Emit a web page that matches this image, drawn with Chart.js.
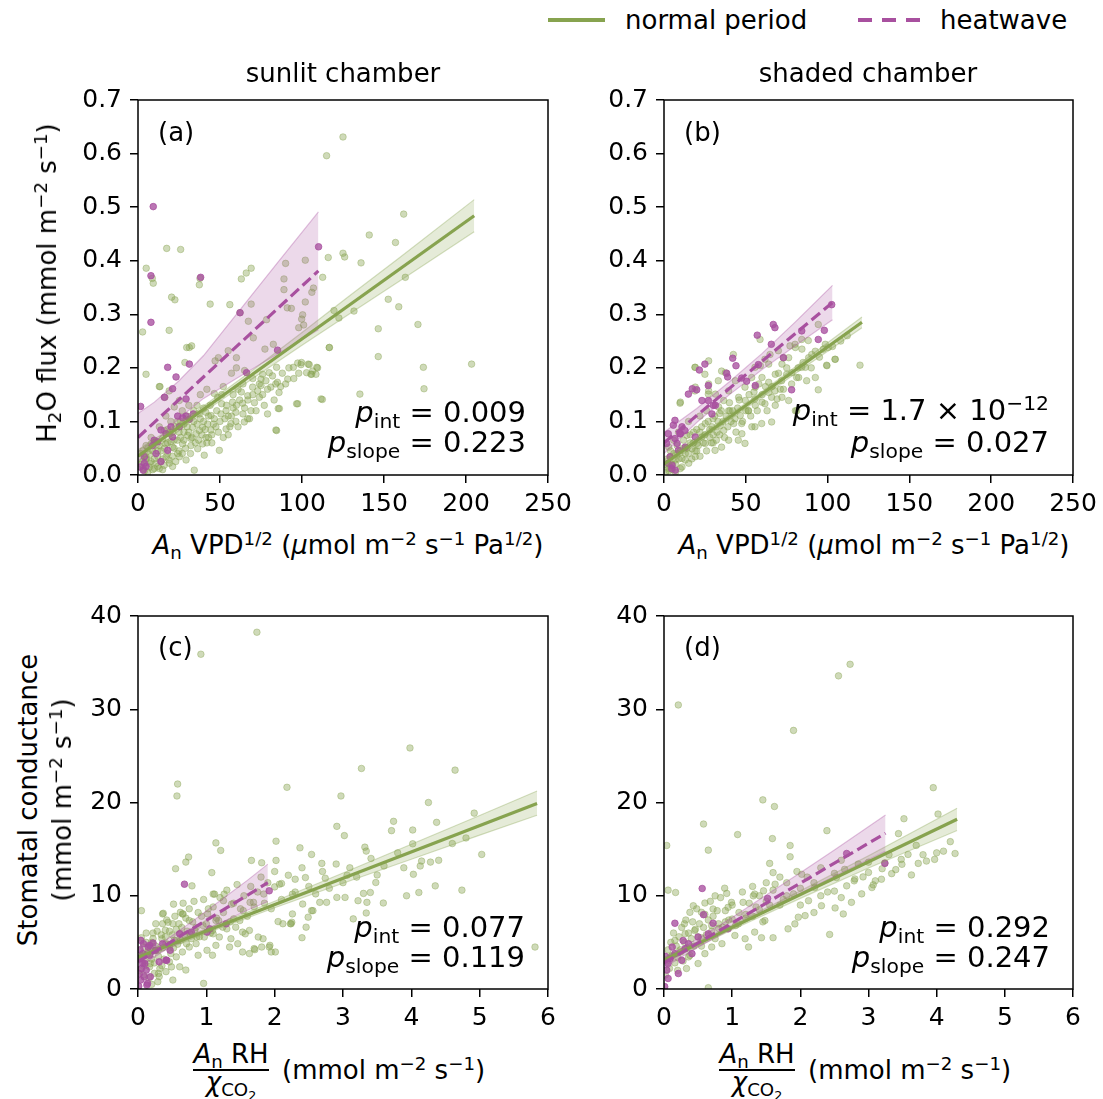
<!DOCTYPE html>
<html>
<head>
<meta charset="utf-8">
<script src="https://cdn.jsdelivr.net/npm/chart.js@4.4.0/dist/chart.umd.min.js"></script>
<style>
body{margin:0;background:#fff;font-family:'DejaVu Sans',sans-serif;color:#000}
#fig{position:relative;width:1103px;height:1099px;overflow:hidden;background:#fff}
canvas{position:absolute}
.t{position:absolute;white-space:nowrap;font-size:26px;line-height:1}
.c{transform:translate(-50%,-50%)}
.m{transform:translateY(-50%)}
.p{font-size:29px}
sub,sup{font-size:0.7em;line-height:0;position:relative;vertical-align:baseline}
sup{top:-0.5em}
sub{top:0.28em}
.bar{position:absolute;height:1.5px;background:#000}
</style>
</head>
<body>
<div id="fig">
  <canvas id="pa"></canvas>
  <canvas id="pb"></canvas>
  <canvas id="pc"></canvas>
  <canvas id="pd"></canvas>

  <!-- legend -->
  <div style="position:absolute;left:548px;top:18px;width:57px;height:4px;background:#87a34f"></div>
  <div class="t m" style="left:625px;top:20px">normal period</div>
  <div style="position:absolute;left:858px;top:18px;width:62px;height:4px;background:repeating-linear-gradient(90deg,#a8509f 0 14px,transparent 14px 24px)"></div>
  <div class="t m" style="left:940px;top:20px">heatwave</div>

  <div class="t c" style="left:343px;top:73px">sunlit chamber</div>
  <div class="t c" style="left:868px;top:73px">shaded chamber</div>

  <div class="t m" style="left:158px;top:132px">(a)</div>
  <div class="t m" style="left:684px;top:132px">(b)</div>
  <div class="t m" style="left:158px;top:647px">(c)</div>
  <div class="t m" style="left:684px;top:647px">(d)</div>

  <!-- p values -->
  <div class="t m p" style="right:577px;top:412px"><i>p</i><sub>int</sub> = 0.009</div>
  <div class="t m p" style="right:577px;top:442px"><i>p</i><sub>slope</sub> = 0.223</div>
  <div class="t m p" style="right:54px;top:410px"><i>p</i><sub>int</sub> = 1.7 × 10<sup>−12</sup></div>
  <div class="t m p" style="right:54px;top:442px"><i>p</i><sub>slope</sub> = 0.027</div>
  <div class="t m p" style="right:578px;top:927px"><i>p</i><sub>int</sub> = 0.077</div>
  <div class="t m p" style="right:578px;top:957px"><i>p</i><sub>slope</sub> = 0.119</div>
  <div class="t m p" style="right:53px;top:927px"><i>p</i><sub>int</sub> = 0.292</div>
  <div class="t m p" style="right:53px;top:957px"><i>p</i><sub>slope</sub> = 0.247</div>

  <!-- axis titles -->
  <div class="t c" style="left:348px;top:545px"><i>A</i><sub>n</sub> VPD<sup>1/2</sup> (<i>μ</i>mol m<sup>−2</sup> s<sup>−1</sup> Pa<sup>1/2</sup>)</div>
  <div class="t c" style="left:874px;top:545px"><i>A</i><sub>n</sub> VPD<sup>1/2</sup> (<i>μ</i>mol m<sup>−2</sup> s<sup>−1</sup> Pa<sup>1/2</sup>)</div>
  <div class="t" style="left:47px;top:283px;transform:translate(-50%,-50%) rotate(-90deg)">H<sub>2</sub>O flux (mmol m<sup>−2</sup> s<sup>−1</sup>)</div>
  <div class="t" style="left:28px;top:800px;transform:translate(-50%,-50%) rotate(-90deg)">Stomatal conductance</div>
  <div class="t" style="left:62px;top:800px;transform:translate(-50%,-50%) rotate(-90deg)">(mmol m<sup>−2</sup> s<sup>−1</sup>)</div>

  <div class="t c" style="left:231px;top:1054px"><i>A</i><sub>n</sub> RH</div>
  <div class="bar" style="left:193px;top:1069px;width:76px"></div>
  <div class="t c" style="left:231px;top:1082px"><i>χ</i><sub>CO<sub>2</sub></sub></div>
  <div class="t m" style="left:282px;top:1070px">(mmol m<sup>−2</sup> s<sup>−1</sup>)</div>

  <div class="t c" style="left:757px;top:1054px"><i>A</i><sub>n</sub> RH</div>
  <div class="bar" style="left:719px;top:1069px;width:76px"></div>
  <div class="t c" style="left:757px;top:1082px"><i>χ</i><sub>CO<sub>2</sub></sub></div>
  <div class="t m" style="left:808px;top:1070px">(mmol m<sup>−2</sup> s<sup>−1</sup>)</div>
</div>

<script>
// ---- tick values ----
const fluxXTicks = [0, 50, 100, 150, 200, 250];
const fluxYTicks = [0, 0.1, 0.2, 0.3, 0.4, 0.5, 0.6, 0.7];
const condXTicks = [0, 1, 2, 3, 4, 5, 6];
const condYTicks = [0, 10, 20, 30, 40];

// ---- (a) sunlit, H2O flux vs An VPD^1/2 ----
const fluxSunNormal = [
  [125,0.631],[115,0.596],[162,0.487],[141,0.448],[157,0.434],[125,0.414],[126,0.407],[116,0.406],[136,0.396],[102,0.401],
  [90,0.395],[17.5,0.423],[26,0.421],[5,0.386],[9.3,0.358],[8.7,0.367],[37.4,0.355],[37.8,0.367],[20.5,0.332],[22.5,0.327],
  [44,0.319],[66,0.377],[69,0.386],[63,0.366],[69,0.319],[56,0.318],[89,0.366],[106,0.341],[107,0.349],[112.6,0.369],
  [89,0.346],[102,0.323],[91,0.312],[93.5,0.311],[119.5,0.307],[122.5,0.293],[131.7,0.306],[152.6,0.328],[159,0.314],[163,0.369],
  [170.7,0.281],[146.5,0.273],[146.5,0.221],[174,0.201],[174.4,0.161],[203.4,0.207],[135.3,0.151],[116.6,0.238],[112.4,0.141],[96.7,0.133],
  [67.3,0.287],[62.2,0.303],[78.4,0.29],[100.4,0.299],[99.8,0.291],[101,0.28],[98,0.275],[77.4,0.235],[82.5,0.244],[70.3,0.256],
  [60,0.219],[55,0.232],[49,0.219],[47,0.213],[19,0.27],[2.8,0.267],[29.7,0.238],[32.7,0.241],[28.6,0.21],[4.9,0.188],
  [13.4,0.165],[16.4,0.145],[99.7,0.21],[103.8,0.207],[109,0.201],[105.9,0.188],[102.8,0.191],[94.7,0.201],[84.5,0.201],[79,0.114],
  [84.5,0.083],[85.5,0.124],[51,0.133],[56,0.09],[64,0.114],[68,0.105],[31.3,0.238],[13,0.165],[19,0.157],[46.5,0.152],
  [48.6,0.145],[57.7,0.136],[63.8,0.134],[59.7,0.117],[53.7,0.12],[50.6,0.114],[46.5,0.105],[47.5,0.09],[44.5,0.084],[68.9,0.12],
  [66.9,0.105],[64.8,0.099],[59.7,0.1],[56.7,0.096],[53.7,0.086],[69.9,0.164],[73,0.157],[66.9,0.148],[78,0.176],[81,0.164],
  [84,0.17],[75,0.167],[86,0.154],[85,0.173],[91.3,0.179],[80,0.191],[76,0.188],[75,0.179],[97.4,0.209],[99.4,0.206],
  [104.4,0.206],[106.5,0.194],[109.5,0.2],[108.5,0.188],[105.4,0.188],[116.7,0.238],[111.6,0.142],[97.4,0.133],[86.2,0.124],[84.1,0.084],
  [34.3,0.009],[25.2,0.034],[29.3,0.028],[24.2,0.04],[21.1,0.052],[27.2,0.058],[32.3,0.055],[36.4,0.049],[39.4,0.058],[41.4,0.07],
  [37.4,0.083],[35.4,0.077],[33.3,0.089],[39.4,0.089],[42.5,0.095],[44.5,0.111],[41.4,0.117],[37.4,0.114],[19.1,0.022],[17.1,0.034],
  [14,0.025],[12,0.016],[15,0.01],[21.1,0.016],[6.9,0.022],[4.9,0.034],[2.8,0.025],[8.9,0.01],[16.1,0.05],[4.9,0.055],
  [8,0.058],[11,0.062],[19.1,0.077],[16.1,0.083],[30.3,0.074],[32.3,0.068],[49.6,0.046],[40.4,0.037],[25.2,0.139],[22.1,0.127],
  [10,0.03],[12,0.045],[18,0.06],[22,0.065],[26,0.07],[28,0.08],[30,0.09],[24,0.1],[34,0.1],[36,0.13],
  [40,0.1],[43,0.07],[45,0.06],[52,0.07],[55,0.11],[58,0.125],[62,0.14],[61,0.16],[64,0.17],[71,0.135],
  [74,0.145],[77,0.13],[70,0.18],[88,0.19],[92,0.2],[6,0.005],[3,0.012],[1.5,0.04],[8,0.07],[13,0.09],
  [20,0.1],[17,0.11],[27,0.12],[31,0.13],[38,0.15],[42,0.16],[52,0.165],[57,0.19],[60,0.2],[65,0.195],
  [2,0.02],[3,0.045],[4,0.008],[5,0.03],[6,0.05],[7,0.015],[7,0.038],[8,0.025],[9,0.045],[10,0.012],
  [10,0.06],[11,0.022],[12,0.035],[13,0.055],[13,0.012],[14,0.045],[15,0.068],[15,0.03],[16,0.018],[17,0.058],
  [18,0.04],[18,0.085],[19,0.028],[20,0.062],[21,0.035],[21,0.08],[22,0.05],[23,0.09],[23,0.025],[24,0.065],
  [25,0.045],[25,0.08],[26,0.1],[27,0.04],[28,0.065],[28,0.095],[29,0.05],[30,0.11],[31,0.08],[32,0.04],
  [33,0.07],[34,0.12],[35,0.06],[36,0.095],[37,0.065],[38,0.105],[39,0.075],[40,0.125],[41,0.085],[42,0.06],
  [43,0.11],[44,0.13],[45,0.075],[46,0.095],[48,0.12],[49,0.08],[50,0.1],[51,0.15],[53,0.105],[54,0.13],
  [55,0.075],[57,0.11],[58,0.15],[60,0.13],[61,0.09],[63,0.155],[65,0.125],[67,0.14],[70,0.15],[72,0.12],
  [74,0.17],[76,0.15],[79,0.16],[82,0.185],[83,0.14],[87,0.165],[90,0.17],[95,0.18],[98,0.19]
];
const fluxSunHeat = [
  [9.3,0.501],[7.9,0.372],[38.2,0.369],[7.9,0.285],[62.2,0.303],[85.1,0.233],[110.1,0.426],[66.2,0.191],[18.1,0.201],[23.2,0.183],
  [31.3,0.207],[21.1,0.161],[16.1,0.145],[29.3,0.142],[1.6,0.128],[27.2,0.107],[29.3,0.11],[31.3,0.104],[24.2,0.11],[20.1,0.09],
  [25.2,0.09],[14,0.084],[17.1,0.077],[9.9,0.065],[12,0.062],[8.9,0.055],[21.1,0.071],[18.1,0.046],[11,0.04],[3.9,0.034],
  [3.9,0.022],[4.9,0.016],[14,0.025],[3.2,0.009],[1.2,0.015],[33.7,0.114]
];
const fitFluxSunNormal = [[0,0.035],[205,0.484]];
const fitFluxSunHeat = [[0,0.07],[110,0.381]];
// [x, lower, upper]
const bandFluxSunNormal = [[0,0.023,0.047],[20,0.071,0.087],[40,0.117,0.129],[70,0.180,0.196],[100,0.242,0.266],[130,0.303,0.337],[160,0.363,0.407],[205,0.454,0.514]];
const bandFluxSunHeat = [[0,0.025,0.115],[10,0.06,0.136],[25,0.106,0.176],[40,0.143,0.223],[60,0.18,0.30],[85,0.226,0.396],[110,0.271,0.491]];

// ---- (b) shaded, H2O flux ----
const fluxShadeNormal = [
  [119.8,0.205],[104.5,0.216],[99.4,0.205],[94.3,0.159],[81.1,0.12],[88.2,0.251],[94.3,0.281],[84.2,0.253],[80.1,0.244],[77,0.241],
  [73,0.219],[69.9,0.232],[64.8,0.225],[61.7,0.216],[58.7,0.253],[55.6,0.201],[53.6,0.182],[49.5,0.164],[42.4,0.225],[35.2,0.194],
  [33.2,0.176],[25,0.188],[18.9,0.201],[9.8,0.134],[18.9,0.157],[27.1,0.151],[65.8,0.099],[59.7,0.096],[55.6,0.09],[45.4,0.065],
  [49.5,0.059],[35.2,0.052],[31.2,0.046],[81.1,0.182],[84.2,0.201],[87.2,0.176],[71.9,0.176],[75,0.188],[67.8,0.157],[90.3,0.225],
  [97.4,0.235],[100.4,0.238],[65.8,0.145],[61.7,0.133],[55.6,0.142],[51.5,0.12],[40.3,0.12],[43.4,0.105],[47.5,0.096],[80.3,0.238],
  [84.3,0.235],[76.2,0.219],[88.4,0.219],[92.5,0.231],[98.6,0.244],[104.7,0.216],[99.6,0.204],[80.3,0.12],[76.2,0.139],[72.1,0.145],
  [69.1,0.142],[82.3,0.182],[78.2,0.191],[86.4,0.201],[92.5,0.182],[55.8,0.164],[59.9,0.182],[64,0.173],[68,0.188],[71.1,0.16],
  [64,0.154],[59.9,0.136],[55.8,0.13],[51.7,0.12],[49.7,0.139],[45.6,0.145],[46.6,0.111],[42.6,0.096],[39.5,0.157],[36.5,0.139],
  [39.5,0.12],[33.4,0.127],[37.5,0.191],[43.6,0.176],[27.3,0.17],[31.4,0.151],[10,0.136],[19.1,0.164],[27.3,0.157],[19.1,0.201],
  [27.3,0.213],[36.5,0.083],[34.4,0.092],[32.4,0.08],[29.3,0.09],[25.2,0.096],[23.2,0.071],[20.2,0.059],[17.1,0.049],[13,0.04],
  [11,0.031],[15.1,0.022],[6.9,0.028],[3.9,0.034],[2.9,0.012],[10,0.012],[19.1,0.034],[25.2,0.059],[39.5,0.065],[47.6,0.077],
  [53.7,0.09],[2.9,0.052],[5.9,0.065],[8.9,0.08],[14,0.074],[18.1,0.08],[72.1,0.207],[64,0.207],[58.9,0.204],[1,0.005],
  [4,0.015],[7,0.005],[12,0.05],[16,0.06],[22,0.08],[28,0.07],[30,0.105],[34,0.115],[22,0.11],[15,0.1],
  [8,0.04],[5,0.02],[26,0.12],[30,0.06],[20,0.045],
  [1,0.02],[2,0.03],[3,0.008],[4,0.045],[5,0.01],[6,0.04],[7,0.02],[8,0.055],[9,0.03],[10,0.045],
  [11,0.015],[12,0.065],[13,0.028],[14,0.05],[15,0.04],[16,0.075],[17,0.03],[18,0.06],[19,0.045],[20,0.085],
  [21,0.055],[22,0.035],[23,0.09],[24,0.06],[25,0.075],[26,0.045],[27,0.1],[28,0.085],[29,0.06],[30,0.075],
  [31,0.11],[32,0.065],[33,0.1],[34,0.075],[35,0.12],[36,0.1],[37,0.07],[38,0.11],[39,0.09],[40,0.135],
  [41,0.1],[42,0.12],[44,0.08],[45,0.125],[46,0.14],[48,0.1],[50,0.12],[52,0.15],[53,0.11],[55,0.155],
  [57,0.12],[58,0.17],[60,0.15],[62,0.165],[63,0.12],[66,0.165],[68,0.13],[70,0.19],[73,0.16],[75,0.2],
  [78,0.17],[82,0.2],[85,0.21],[90,0.2],[95,0.22],[103,0.24],[108,0.25],[112,0.26]
];
const fluxShadeHeat = [
  [66.8,0.281],[67.8,0.275],[73,0.219],[98,0.27],[94.3,0.253],[102.5,0.318],[84.2,0.269],[42,0.218],[25,0.207],[21.6,0.196],
  [38.3,0.19],[38.9,0.183],[27.1,0.167],[17.3,0.161],[20,0.159],[14.9,0.151],[47.5,0.181],[50.5,0.175],[57.7,0.206],[78,0.159],
  [30.2,0.13],[27.1,0.139],[6.7,0.102],[5.7,0.093],[9.8,0.077],[12.8,0.083],[2.6,0.077],[1.6,0.059],[3.7,0.034],[2.6,0.022],
  [4.7,0.012],[8.8,0.046],[6.7,0.068],[57,0.261],[65.6,0.244],[44,0.204],[55.8,0.167],[23.2,0.139],[31.4,0.13],[29.3,0.114],
  [11,0.09],[10,0.077],[19.1,0.071],[8,0.059],[13,0.052],[6.9,0.009],[4.9,0.018]
];
const fitFluxShadeNormal = [[0,0.02],[121,0.285]];
const fitFluxShadeHeat = [[0,0.06],[103,0.322]];
const bandFluxShadeNormal = [[0,0.012,0.028],[30,0.081,0.091],[60,0.146,0.156],[90,0.21,0.224],[121,0.275,0.295]];
const bandFluxShadeHeat = [[0,0.04,0.08],[20,0.098,0.124],[40,0.15,0.174],[60,0.197,0.227],[80,0.241,0.285],[103,0.29,0.354]];

// ---- (c) sunlit, stomatal conductance ----
const condSunNormal = [
  [1.74,38.26],[0.92,35.9],[0.58,21.98],[0.57,20.7],[2.18,21.63],[2.97,20.7],[3.98,25.85],[3.27,23.65],[4.64,23.47],[4.25,20],
  [4.92,18.86],[4.37,17.87],[3.74,17.98],[3.71,16.98],[4.02,17.05],[2.91,17.44],[3.02,16.45],[4.02,15.57],[3.32,15.21],[3.34,14.79],
  [2.37,15.14],[2.54,14.43],[2.69,13.47],[2.02,15.85],[1.14,15.67],[1.21,14.86],[0.74,14.15],[0.7,13.61],[0.55,12.9],[1.08,12.48],
  [1.66,13.79],[1.81,13.54],[2.02,13.79],[5.03,14.43],[5.81,4.5],[4.74,10.6],[4.35,11.06],[4.11,10.35],[3.93,10],[4.13,13.19],
  [4.15,13.72],[4.28,13.61],[3.89,13],[4.03,12.3],[3.41,14],[3.5,12.23],[3.48,11.42],[3.1,13],[3.06,12.2],[3.3,10.25],
  [3.4,10.35],[3.22,9.47],[3.35,9.29],[3.34,8.15],[3.59,9.22],[3.15,7.52],[3.03,9.82],[2.91,9.82],[2.76,9.29],[2.66,9.29],
  [2.74,11.88],[2.45,11.95],[2.3,11.77],[2.1,11.31],[2.0,10.95],[2.54,8.4],[2.49,7.7],[2.4,5.5],[2.23,7],[2.25,7.16],
  [2.05,7.23],[1.93,4.68],[2.01,3.97],[1.81,4.5],[1.71,4.22],[1.76,5.57],[1.57,5.92],[0.96,0.6],[1.84,10.18],[1.69,9.29],
  [1.64,9.29],[1.54,8.4],[1.49,7.34],[1.4,7.52],[1.3,6.45],[1.18,7.34],[1.1,5.92],[0.86,5.57],[0.88,3.62],[1.01,4.15],
  [0.71,4.86],[0.79,11.06],[0.62,8.22],[0.37,8.12],[0.05,8.4],[0.52,9.1],[0.66,8.05],[0.44,7.16],[1.1,10.18],[1.25,9.47],
  [1.37,9.1],[0.76,5.92],[0.57,5.21],[0.35,5.39],[0.25,4.15],[0.18,2.73],[0.3,1.66],[0.49,2.37],[0.36,8.05],[0.65,8.05],
  [0.51,7.0],[0.36,7.0],[0.26,7.0],[0.75,7.34],[0.95,6.81],[0.83,6.28],[1.09,6.28],[0.97,5.57],[0.85,4.86],[1.14,7.34],
  [1.24,6.63],[1.02,8.05],[1.12,10.17],[1.26,10.17],[1.43,6.63],[1.53,6.1],[1.63,6.28],[1.36,5.39],[1.46,4.86],[1.34,4.5],
  [1.7,4.33],[1.63,3.8],[1.53,3.97],[1.92,4.5],[1.95,3.97],[1.83,5.39],[1.19,5.57],[1.14,4.68],[1.09,3.62],[0.75,4.5],
  [0.65,3.97],[0.56,3.44],[0.46,2.91],[0.61,2.38],[0.41,1.86],[0.31,1.33],[0.17,2.38],[0.24,1.68],[0.29,0.78],[0.46,4.5],
  [0.53,5.21],[0.41,4.86],[0.61,5.92],[0.51,0.96],[0.7,2.03],[2.07,11.24],[2.26,10.17],[2.41,9.11],[2.56,8.4],[2.26,8.05],
  [2.12,7.0],[2.24,7.0],[2.46,6.63],[0.1,3],[0.15,4],[0.2,5],[0.05,5.5],[0.12,6],[0.3,3.5],[0.22,6],
  [0.4,6.3],[0.08,1.5],[0.2,0.5],[0.35,2.5],
  [0.02,2],[0.05,3.5],[0.08,4.5],[0.1,2.5],[0.12,5],[0.14,3.8],[0.16,1.2],[0.18,4.4],[0.2,3.2],[0.22,5.4],
  [0.24,2.8],[0.26,4.6],[0.28,6.2],[0.3,4.2],[0.32,2.2],[0.34,5.8],[0.36,4.4],[0.38,3.2],[0.4,5.6],[0.42,7.4],
  [0.44,4.8],[0.46,6.2],[0.48,3.8],[0.5,5.8],[0.52,4.4],[0.54,7.8],[0.56,6.4],[0.58,4.8],[0.6,7],[0.62,5.2],
  [0.64,6.6],[0.66,9.2],[0.68,5.8],[0.7,7.6],[0.72,6.2],[0.75,8.6],[0.78,5.4],[0.8,7.2],[0.82,9.4],[0.85,6.6],
  [0.88,8.2],[0.9,5.6],[0.93,7.8],[0.96,9.6],[1.0,7],[1.03,8.6],[1.06,6],[1.1,8.8],[1.15,7.6],[1.2,9.8],
  [1.25,8.2],[1.3,10.6],[1.35,7.2],[1.4,9.2],[1.45,11.2],[1.5,8.6],[1.55,10],[1.6,7.8],[1.65,11],[1.7,8.8],
  [1.75,10.4],[1.8,12],[1.85,9.2],[1.9,11.4],[1.95,8.6],[2.0,12.6],[2.1,9.6],[2.2,12.2],[2.3,10.4],[2.4,13],
  [2.5,11],[2.6,10.2],[2.7,12.6],[2.8,10.8],[2.9,13.4],[3.0,11.4],[3.2,12],[3.6,13.2],[3.8,14.6],[4.4,13.8],
  [4.6,15.6],[4.8,16.2]
];
const condSunHeat = [
  [0.68,11.24],[1.92,10.53],[1.29,6.99],[0.78,6.1],[0.61,5.92],[1.01,6.1],[1.05,6.45],[0.36,4.86],[0.26,4.15],[0.17,3.62],
  [0.07,3.8],[0.41,3.09],[0.31,2.91],[0.07,2.73],[0.12,2.02],[0.09,1.31],[0.04,0.96],[0.14,0.6],[0.02,1.66],[0.04,5.21],
  [0.17,4.68],[0.22,4.93],[0.15,4.5],[0.08,4.86],[0.03,3.26],[0.1,2.73],[0.05,2.2],[0.13,0.42],[0.18,1.31],[0.42,3.08],
  [0.47,4.15],[0.01,0.3],[0.03,4.2]
];
const fitCondSunNormal = [[0,3.4],[5.84,19.9]];
const fitCondSunHeat = [[0,2.9],[1.9,11.4]];
const bandCondSunNormal = [[0,3.05,3.75],[1,5.98,6.48],[2,8.71,9.41],[3,11.34,12.44],[4,13.92,15.52],[5,16.5,18.6],[5.84,18.63,21.23]];
const bandCondSunHeat = [[0,2.3,3.5],[0.4,4.19,5.19],[0.8,5.68,7.28],[1.2,7.06,9.46],[1.6,8.45,11.65],[1.9,9.39,13.39]];

// ---- (d) shaded, stomatal conductance ----
const condShadeNormal = [
  [2.73,34.82],[2.56,33.58],[0.21,30.46],[1.9,27.73],[3.95,21.59],[1.45,20.28],[1.62,19.57],[0.58,17.69],[1.08,16.56],[0.65,14.89],
  [1.59,16.13],[2.39,16.98],[1.85,15.39],[1.85,14.18],[4.02,18.76],[3.52,18.26],[3.44,16.66],[4.1,14.78],[4.27,14.53],[3.85,13.72],
  [3.97,13.9],[3.73,13.47],[3.49,13.37],[3.48,13.9],[3.58,14.43],[3.24,13.54],[3.63,12.23],[3.34,12.37],[3.19,11.77],[3.07,11.17],
  [3.05,10.88],[2.92,12.02],[2.79,11.6],[2.65,12.83],[2.53,11.95],[2.68,11.06],[2.51,8.69],[2.63,8.05],[2.75,9.29],[2.43,5.85],
  [2.31,8.93],[2.21,10.88],[2.12,9.47],[2.07,7.87],[1.97,7.7],[2.02,12.3],[1.82,6.45],[1.92,6.98],[1.55,13.47],[1.6,12.48],
  [1.63,11.24],[1.46,10.53],[1.33,10.18],[1.48,7.34],[1.43,5.5],[1.6,5.5],[1.33,6.1],[1.19,5.39],[1.16,9.29],[1.31,9.99],
  [0.99,9.29],[0.94,8.76],[0.89,10.81],[0.92,10.25],[0.75,9.99],[0.72,8.58],[0.6,9.22],[0.43,8.93],[0.38,8.22],[0.55,8.22],
  [0.06,10.6],[0.17,10.35],[0.04,15.39],[0.65,0.14],[0.45,6.27],[0.31,5.92],[0.16,5.21],[0.7,4.5],[0.85,4.86],[0.36,3.44],
  [0.5,2.73],[0.33,2.2],[0.6,3.79],[1.04,5.74],[1.24,4.5],[1.09,6.98],[1.0,7.5],[1.2,8],[1.4,8.5],[1.7,9],
  [1.8,10],[2.0,9],[2.3,10],[2.5,10.5],[2.9,10.2],[3.2,12.9],[2.2,8.2],[0.8,6.5],[0.9,7.2],[0.25,4],
  [0.1,3.5],[0.2,2],[0.55,5.5],[0.3,7],[0.7,6.8],[1.3,7.8],[1.5,9.4],[2.6,9.8],[3.0,12.5],[2.85,13.4],
  [0.02,1.5],[0.04,3],[0.06,4.2],[0.08,2.2],[0.1,5],[0.12,3.6],[0.14,6],[0.16,2.8],[0.18,4.6],[0.2,3.4],
  [0.22,5.6],[0.24,4.2],[0.26,6.6],[0.28,3],[0.3,5],[0.32,7.4],[0.34,4.4],[0.36,6],[0.38,3.6],[0.4,5.4],
  [0.42,7.2],[0.44,4.6],[0.46,6.4],[0.48,8.6],[0.5,5.6],[0.52,7],[0.55,4.6],[0.58,6.6],[0.6,8],[0.62,5.8],
  [0.65,7.4],[0.68,9.4],[0.7,6.2],[0.72,7.8],[0.75,5.4],[0.78,8.4],[0.8,7],[0.83,9.8],[0.86,6.6],[0.9,8.4],
  [0.95,7.4],[1.0,9],[1.05,6.8],[1.1,8.2],[1.15,10.4],[1.2,7.6],[1.25,9.2],[1.3,11],[1.35,8.8],[1.4,10],
  [1.45,7.2],[1.5,11.4],[1.55,9],[1.6,10.6],[1.7,12],[1.75,9.6],[1.8,11.4],[1.9,10.2],[1.95,12.6],[2.0,10.8],
  [2.1,12],[2.2,11.4],[2.3,13],[2.4,10.4],[2.5,12.4],[2.6,13.8],[2.8,11.8],[3.0,13.6],[3.1,11.6],[3.3,14.4],
  [3.4,12.8],[3.7,15.4],[3.8,14.4],[4.0,14.6],[4.2,15.8]
];
const condShadeHeat = [
  [0.56,10.78],[0.58,7.97],[0.16,7.05],[0.72,7.05],[1.52,9.71],[2.68,14.53],[3.24,13.47],[0.65,5.92],[0.5,5.57],[0.36,4.86],
  [0.31,4.32],[0.16,3.79],[0.09,3.26],[0.06,2.73],[0.04,2.02],[0.06,1.13],[0.01,0.25],[0.26,3.08],[0.41,3.79],[0.21,1.66],
  [0.94,6.45],[0.12,4.5],[0.02,3.5],[0.28,5.2]
];
const fitCondShadeNormal = [[0,3.1],[4.3,18.2]];
const fitCondShadeHeat = [[0,2.8],[3.25,16.7]];
const bandCondShadeNormal = [[0,2.8,3.4],[1,6.36,6.86],[2,9.72,10.52],[3,12.98,14.28],[4.3,16.99,19.39]];
const bandCondShadeHeat = [[0,2.3,3.3],[0.5,4.49,5.39],[1,6.48,7.68],[1.5,8.37,10.07],[2,10.26,12.46],[2.5,12.1,14.9],[3.25,14.76,18.66]];

// ---- styling ----
const GREEN = '#87a34f', PURPLE = '#a8509f';
const FONT = 'DejaVu Sans';

const xy = arr => arr.map(p => ({x: p[0], y: p[1]}));
const edge = (arr, k) => arr.map(r => ({x: r[0], y: r[k]}));

// frame around the plot area (matplotlib style box)
const framePlugin = {
  id: 'frame',
  afterDraw(c) {
    const a = c.chartArea, ctx = c.ctx;
    ctx.save();
    ctx.strokeStyle = '#000';
    ctx.lineWidth = 1.5;
    ctx.strokeRect(a.left, a.top, a.right - a.left, a.bottom - a.top);
    ctx.restore();
  }
};

function axis(ticks, dec, fixed, isX) {
  return {
    type: 'linear',
    min: ticks[0],
    max: ticks[ticks.length - 1],
    afterBuildTicks: s => { s.ticks = ticks.map(v => ({value: v})); },
    afterFit: s => { if (isX) s.height = fixed; else s.width = fixed; },
    border: {display: false},
    grid: {drawOnChartArea: false, drawTicks: true, tickLength: 8, color: '#000', lineWidth: 1.5},
    ticks: {
      color: '#000', padding: isX ? 6 : 8,
      font: {family: FONT, size: 25},
      callback: v => v.toFixed(dec)
    }
  };
}

function panel(id, L, T, R, B, xt, yt, yDec, normal, heat, fitN, fitH, bandN, bandH) {
  const padL = 80, padT = 20, padR = 30, padB = 40;
  const cv = document.getElementById(id);
  cv.width = (R - L) + padL + padR;
  cv.height = (B - T) + padT + padB;
  cv.style.left = (L - padL) + 'px';
  cv.style.top = (T - padT) + 'px';

  const lineDs = (data, color, dash, order) => ({
    type: 'line', data: xy(data), showLine: true, pointRadius: 0,
    borderColor: color, borderWidth: 3.2, borderDash: dash, fill: false, order
  });
  const bandDs = (rows, k, rgb, fill, order) => ({
    type: 'line', data: edge(rows, k), showLine: true, pointRadius: 0,
    borderColor: `rgba(${rgb},0.35)`, borderWidth: 1.2,
    backgroundColor: `rgba(${rgb},0.22)`, fill, order
  });
  const ptDs = (data, fillC, order) => ({
    type: 'scatter', data: xy(data), pointRadius: 3.3, pointBorderWidth: 1,
    backgroundColor: fillC, borderColor: fillC, order
  });

  new Chart(cv, {
    type: 'scatter',
    data: {
      datasets: [
        lineDs(fitH, PURPLE, [11, 5], 0),
        lineDs(fitN, GREEN, [], 1),
        bandDs(bandH, 2, '170,80,160', '+1', 2),
        bandDs(bandH, 1, '170,80,160', false, 3),
        bandDs(bandN, 2, '135,163,79', '+1', 4),
        bandDs(bandN, 1, '135,163,79', false, 5),
        ptDs(heat, 'rgba(168,80,159,0.78)', 6),
        ptDs(normal, 'rgba(135,163,79,0.4)', 7)
      ]
    },
    options: {
      responsive: false,
      animation: false,
      layout: {padding: {left: 0, top: padT, right: padR, bottom: 0}},
      plugins: {legend: {display: false}, tooltip: {enabled: false}},
      scales: {
        x: axis(xt, 0, padB, true),
        y: axis(yt, yDec, padL, false)
      }
    },
    plugins: [framePlugin]
  });
}

panel('pa', 138, 97, 548, 475, fluxXTicks, fluxYTicks, 1, fluxSunNormal, fluxSunHeat, fitFluxSunNormal, fitFluxSunHeat, bandFluxSunNormal, bandFluxSunHeat);
panel('pb', 664, 97, 1073, 475, fluxXTicks, fluxYTicks, 1, fluxShadeNormal, fluxShadeHeat, fitFluxShadeNormal, fitFluxShadeHeat, bandFluxShadeNormal, bandFluxShadeHeat);
panel('pc', 138, 613, 548, 989, condXTicks, condYTicks, 0, condSunNormal, condSunHeat, fitCondSunNormal, fitCondSunHeat, bandCondSunNormal, bandCondSunHeat);
panel('pd', 664, 613, 1073, 989, condXTicks, condYTicks, 0, condShadeNormal, condShadeHeat, fitCondShadeNormal, fitCondShadeHeat, bandCondShadeNormal, bandCondShadeHeat);
</script>
</body>
</html>
